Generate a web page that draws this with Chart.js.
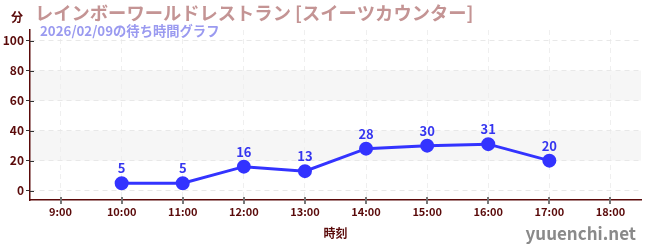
<!DOCTYPE html>
<html><head><meta charset="utf-8">
<script src="https://cdn.jsdelivr.net/npm/chart.js@4"></script>
<style>html,body{margin:0;padding:0;background:#fff}#w{width:650px;height:250px}</style>
</head><body><div id="w"><canvas id="c"></canvas></div>
<script>
const categories = ["9:00","10:00","11:00","12:00","13:00","14:00","15:00","16:00","17:00","18:00"];
const waitMinutes = [null,5,5,16,13,28,30,31,20,null];
const yTicks = [0,10,20,30,40,50,60,70,80,90,100];
const bands = [[20,40],[60,80]];
const titleText = "レインボーワールドレストラン [スイーツカウンター]";
const subtitleText = "2026/02/09の待ち時間グラフ";
const yUnit = "分";
const xTitle = "時刻";
const watermark = "yuuenchi.net";

const FONT = "'Noto Sans CJK JP','Noto Sans',sans-serif";
const DARK = "#5a0a0a";

const deco = {
  id:'deco',
  beforeDraw(chart){
    const {ctx, chartArea:a, scales:{y}} = chart;
    ctx.save();
    ctx.fillStyle = "#f6f6f6";
    bands.forEach(([lo,hi])=>{
      const t=y.getPixelForValue(hi), b=y.getPixelForValue(lo);
      ctx.fillRect(a.left, t, a.right-a.left, b-t);
    });
    ctx.restore();
  },
  afterDraw(chart){
    const {ctx, chartArea:a, scales:{x,y}} = chart;
    ctx.save();
    ctx.strokeStyle = "#333";
    ctx.lineWidth = 1;
    yTicks.filter(v=>v%20===0).forEach(v=>{
      const p=Math.round(y.getPixelForValue(v))+0.5;
      ctx.beginPath();ctx.moveTo(a.left,p);ctx.lineTo(a.left+4,p);ctx.stroke();
    });
    ctx.strokeStyle = "#777";
    ctx.lineWidth = 2;
    categories.forEach((c,i)=>{
      const p=Math.round(x.getPixelForValue(i));
      ctx.beginPath();ctx.moveTo(p,a.bottom-3);ctx.lineTo(p,a.bottom+4);ctx.stroke();
    });
    ctx.textBaseline = "alphabetic";
    ctx.textAlign = "left";
    ctx.fillStyle = "#c49494";
    ctx.font = "bold 18.3px " + FONT;
    ctx.fillText(titleText, 35, 20);
    ctx.fillStyle = "#9a9af0";
    ctx.font = "bold 13.3px " + FONT;
    ctx.fillText(subtitleText, 40, 36);
    ctx.fillStyle = DARK;
    ctx.font = "bold 12px " + FONT;
    ctx.fillText(yUnit, 11, 22);
    ctx.fillStyle = "#8a8a8a";
    ctx.font = "bold 17px " + FONT;
    ctx.textAlign = "right";
    ctx.fillText(watermark, 636, 240);
    const meta = chart.getDatasetMeta(0);
    ctx.fillStyle = "#3535f0";
    ctx.font = "bold 13px " + FONT;
    ctx.textAlign = "center";
    meta.data.forEach((pt,i)=>{
      const v = waitMinutes[i];
      if (v===null || v===undefined) return;
      ctx.fillText(String(v), pt.x, pt.y - 10);
    });
    ctx.restore();
  }
};

new Chart(document.getElementById('c'), {
  type:'line',
  data:{labels:categories, datasets:[{
    data:waitMinutes, borderColor:'#3333ff', backgroundColor:'#3333ff',
    borderWidth:3, pointRadius:5.5, pointHoverRadius:5.5, tension:0, spanGaps:false
  }]},
  options:{
    responsive:true, maintainAspectRatio:false, animation:false,
    layout:{padding:{top:30,right:9,left:0,bottom:9}},
    plugins:{legend:{display:false}, tooltip:{enabled:false}},
    scales:{
      x:{
        offset:true,
        grid:{display:true, color:'#efefef', lineWidth:1, drawTicks:false, offset:false, tickLength:0},
        border:{display:true, color:DARK, width:1.5, dash:[5,4]},
        ticks:{color:DARK, font:{family:FONT, size:11, weight:'bold'}, padding:5, maxRotation:0, autoSkip:false},
        title:{display:true, text:xTitle, color:DARK, font:{family:FONT, size:12, weight:'bold'}, padding:{top:3,bottom:0}},
        afterFit(s){ s.height = 41; }
      },
      y:{
        min:-6.2, max:107,
        afterBuildTicks(s){ s.ticks = yTicks.map(v=>({value:v})); },
        grid:{
          color:(c)=> (c.tick && c.tick.value%20===0) ? '#e8e8e8' : 'rgba(0,0,0,0)',
          tickColor:(c)=> (c.tick && c.tick.value%20===0) ? '#333' : '#e02020',
          tickLength:4, lineWidth:1
        },
        border:{display:true, color:DARK, width:1.5, dash:[5,4]},
        ticks:{color:DARK, font:{family:FONT, size:12, weight:'bold'}, padding:2,
          callback:(v)=> v%20===0 ? String(v) : ''},
        afterFit(s){ s.width = 30; }
      }
    }
  },
  plugins:[deco]
});
</script>
</body></html>
